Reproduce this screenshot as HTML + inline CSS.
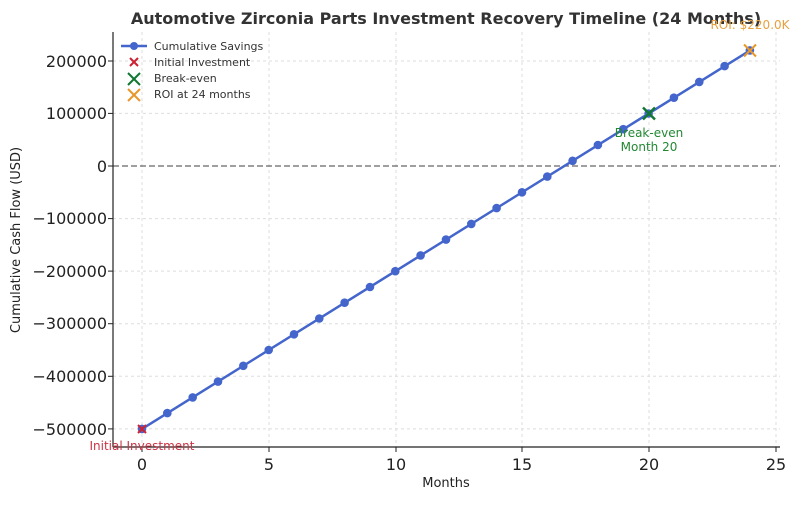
<!DOCTYPE html><html><head><style>body{margin:0;background:#fff}svg{font-family:"DejaVu Sans","Liberation Sans",sans-serif}</style></head><body>
<svg width="800" height="500" xmlns="http://www.w3.org/2000/svg">
<text x="446" y="24" text-anchor="middle" font-size="16" font-weight="bold" fill="#333">Automotive Zirconia Parts Investment Recovery Timeline (24 Months)</text>
<g stroke="#ddd" stroke-dasharray="3,3" stroke-width="1">
<line x1="142" y1="32" x2="142" y2="447"/><line x1="269" y1="32" x2="269" y2="447"/><line x1="396" y1="32" x2="396" y2="447"/><line x1="522" y1="32" x2="522" y2="447"/><line x1="649" y1="32" x2="649" y2="447"/><line x1="776" y1="32" x2="776" y2="447"/>
<line x1="113" y1="61" x2="780" y2="61"/><line x1="113" y1="113.4" x2="780" y2="113.4"/><line x1="113" y1="218.6" x2="780" y2="218.6"/><line x1="113" y1="271.1" x2="780" y2="271.1"/><line x1="113" y1="323.7" x2="780" y2="323.7"/><line x1="113" y1="376.3" x2="780" y2="376.3"/><line x1="113" y1="428.9" x2="780" y2="428.9"/>
</g>
<line x1="113" y1="166" x2="780" y2="166" stroke="#666" stroke-dasharray="6,3" stroke-width="1.2"/>
<line x1="113" y1="32" x2="113" y2="447" stroke="#222" stroke-width="1.2"/>
<line x1="113" y1="447" x2="780" y2="447" stroke="#222" stroke-width="1.2"/>
<g font-size="16" fill="#222" text-anchor="end">
<text x="107" y="67">200000</text><text x="107" y="119">100000</text><text x="107" y="172">0</text><text x="107" y="224">−100000</text><text x="107" y="277">−200000</text><text x="107" y="329">−300000</text><text x="107" y="382">−400000</text><text x="107" y="435">−500000</text>
</g>
<g stroke="#222"><line x1="108" y1="61" x2="113" y2="61"/><line x1="108" y1="113.4" x2="113" y2="113.4"/><line x1="108" y1="166" x2="113" y2="166"/><line x1="108" y1="218.6" x2="113" y2="218.6"/><line x1="108" y1="271.1" x2="113" y2="271.1"/><line x1="108" y1="323.7" x2="113" y2="323.7"/><line x1="108" y1="376.3" x2="113" y2="376.3"/><line x1="108" y1="428.9" x2="113" y2="428.9"/>
<line x1="142" y1="447" x2="142" y2="452"/><line x1="269" y1="447" x2="269" y2="452"/><line x1="396" y1="447" x2="396" y2="452"/><line x1="522" y1="447" x2="522" y2="452"/><line x1="649" y1="447" x2="649" y2="452"/><line x1="776" y1="447" x2="776" y2="452"/></g>
<g font-size="16" fill="#222" text-anchor="middle">
<text x="142" y="470">0</text><text x="269" y="470">5</text><text x="396" y="470">10</text><text x="522" y="470">15</text><text x="649" y="470">20</text><text x="776" y="470">25</text>
</g>
<text x="446" y="487" text-anchor="middle" font-size="13" fill="#222">Months</text>
<text transform="translate(20,240) rotate(-90)" text-anchor="middle" font-size="13" fill="#222">Cumulative Cash Flow (USD)</text>
<polyline fill="none" stroke="#4466cc" stroke-width="2.5" points="142,428.9 750,50.4"/>
<g fill="#4466cc">
<circle cx="167.3" cy="413.1" r="4.3"/><circle cx="192.7" cy="397.4" r="4.3"/><circle cx="218" cy="381.6" r="4.3"/><circle cx="243.3" cy="365.8" r="4.3"/><circle cx="268.7" cy="350" r="4.3"/><circle cx="294" cy="334.3" r="4.3"/><circle cx="319.3" cy="318.5" r="4.3"/><circle cx="344.6" cy="302.7" r="4.3"/><circle cx="370" cy="287" r="4.3"/><circle cx="395.3" cy="271.2" r="4.3"/><circle cx="420.6" cy="255.4" r="4.3"/><circle cx="446" cy="239.6" r="4.3"/><circle cx="471.3" cy="223.9" r="4.3"/><circle cx="496.6" cy="208.1" r="4.3"/><circle cx="522" cy="192.3" r="4.3"/><circle cx="547.3" cy="176.6" r="4.3"/><circle cx="572.6" cy="160.8" r="4.3"/><circle cx="597.9" cy="145" r="4.3"/><circle cx="623.3" cy="129.2" r="4.3"/><circle cx="673.9" cy="97.7" r="4.3"/><circle cx="699.3" cy="81.9" r="4.3"/><circle cx="724.6" cy="66.1" r="4.3"/>
<circle cx="142" cy="428.9" r="4.3"/><circle cx="648.6" cy="113.5" r="4.3"/><circle cx="749.9" cy="50.4" r="4.3"/>
</g>
<g stroke="#cc2233" stroke-width="2"><line x1="138" y1="425" x2="146" y2="433"/><line x1="146" y1="425" x2="138" y2="433"/></g>
<g stroke="#117733" stroke-width="2.5"><line x1="643" y1="107.5" x2="655" y2="119.5"/><line x1="655" y1="107.5" x2="643" y2="119.5"/></g>
<g stroke="#e8982a" stroke-width="2"><line x1="744" y1="44.5" x2="756" y2="56.5"/><line x1="756" y1="44.5" x2="744" y2="56.5"/></g>
<text x="142" y="450" text-anchor="middle" font-size="12" fill="#cc3344">Initial Investment</text>
<text x="649" y="137" text-anchor="middle" font-size="12" fill="#228833">Break-even</text>
<text x="649" y="151" text-anchor="middle" font-size="12" fill="#228833">Month 20</text>
<text x="750" y="29" text-anchor="middle" font-size="12" fill="#e8a040">ROI: $220.0K</text>
<g font-size="11" fill="#333">
<line x1="121" y1="46" x2="147" y2="46" stroke="#4466cc" stroke-width="2.5"/><circle cx="134" cy="46" r="4" fill="#4466cc"/><text x="154" y="50">Cumulative Savings</text>
<g stroke="#cc2233" stroke-width="2"><line x1="130" y1="58" x2="138" y2="66"/><line x1="138" y1="58" x2="130" y2="66"/></g><text x="154" y="66">Initial Investment</text>
<g stroke="#117733" stroke-width="2"><line x1="128" y1="73" x2="140" y2="85"/><line x1="140" y1="73" x2="128" y2="85"/></g><text x="154" y="82">Break-even</text>
<g stroke="#e8982a" stroke-width="2"><line x1="128" y1="89" x2="140" y2="101"/><line x1="140" y1="89" x2="128" y2="101"/></g><text x="154" y="98">ROI at 24 months</text>
</g>
</svg></body></html>
